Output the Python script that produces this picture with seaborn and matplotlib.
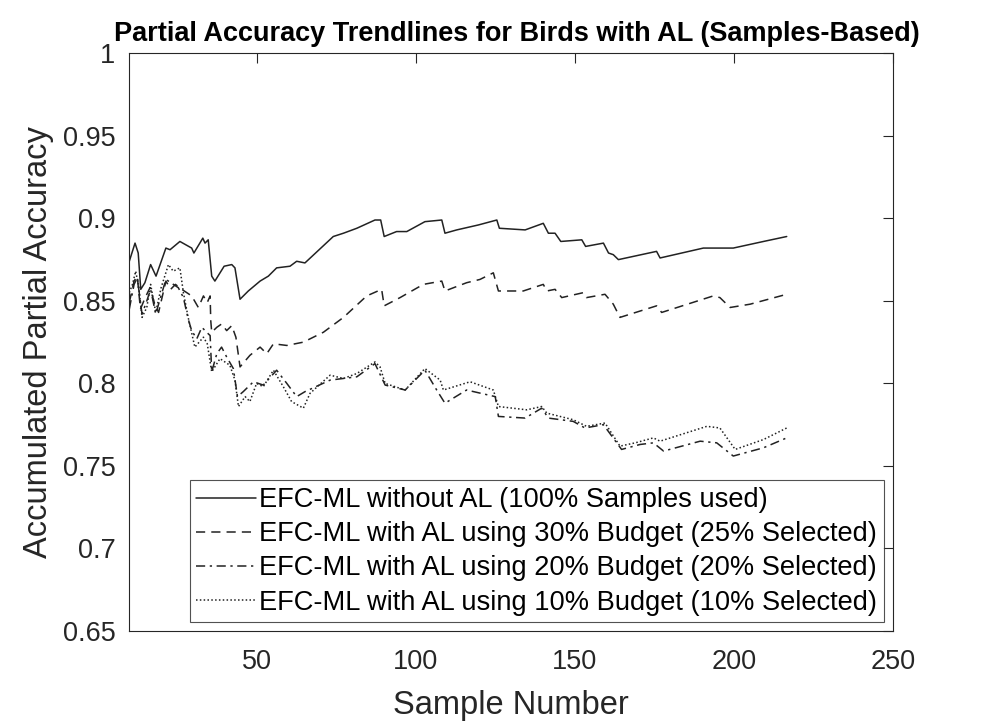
import numpy as np
import pandas as pd
import matplotlib
matplotlib.use('Agg')
import matplotlib.pyplot as plt
import seaborn as sns

sns.set_theme(style='white')
plt.rcParams['font.family'] = ['Liberation Sans', 'DejaVu Sans']

# series: (sample number, accumulated partial accuracy)
no_al_x = [10, 11.8, 12.8, 13.6, 14.9, 16.7, 18.4, 21.5, 22.8, 25.9, 29.6, 30.3, 33.1, 33.8, 34.8,
           35.9, 36.9, 39.8, 42.2, 43.2, 44.8, 47.4, 51.1, 53.7, 56.3, 60.5, 62.6, 65.2, 74.1,
           77.3, 81.5, 87.2, 89.0, 90.1, 94.0, 97.2, 102.9, 108.2, 109.2, 112.9, 119.7, 125.5,
           126.3, 134.4, 140.1, 141.7, 143.8, 145.6, 152.2, 153.4, 159.0, 160.6, 162.1, 163.7,
           175.7, 176.8, 190.4, 199.8, 209.3, 216.6]
no_al_y = [0.874, 0.885, 0.879, 0.857, 0.861, 0.872, 0.865, 0.882, 0.881, 0.886, 0.882, 0.879,
           0.888, 0.885, 0.887, 0.865, 0.862, 0.871, 0.872, 0.870, 0.851, 0.856, 0.862, 0.865,
           0.870, 0.871, 0.874, 0.873, 0.889, 0.891, 0.894, 0.899, 0.899, 0.889, 0.892, 0.892,
           0.898, 0.899, 0.891, 0.893, 0.896, 0.899, 0.894, 0.893, 0.897, 0.891, 0.891, 0.886,
           0.887, 0.883, 0.885, 0.879, 0.878, 0.875, 0.880, 0.876, 0.882, 0.882, 0.886, 0.889]

b30_x = [10, 11.5, 12.5, 13.5, 15, 16.5, 18, 19.2, 21.5, 23, 24.5, 26.5, 29.6, 31.7, 33.3, 34.5,
         35.4, 35.6, 35.9, 37.5, 39.0, 40.6, 42.2, 43.5, 44.8, 47.9, 51.1, 53.2, 55.3, 59.5,
         64.7, 71.0, 77.3, 84.6, 89.3, 90.1, 95.1, 102.4, 108.2, 109.2, 116.0, 120.2, 124.4,
         126.0, 133.8, 140.1, 141.2, 143.8, 145.9, 152.7, 153.7, 159.5, 162.1, 164.2, 175.7,
         177.3, 193.5, 195.6, 198.8, 205.1, 216.6]
b30_y = [0.849, 0.862, 0.865, 0.845, 0.852, 0.858, 0.848, 0.843, 0.862, 0.857, 0.860, 0.857,
         0.853, 0.846, 0.853, 0.849, 0.853, 0.838, 0.831, 0.834, 0.836, 0.832, 0.835, 0.828,
         0.810, 0.817, 0.822, 0.818, 0.824, 0.823, 0.825, 0.831, 0.840, 0.853, 0.857, 0.847,
         0.852, 0.860, 0.862, 0.856, 0.861, 0.863, 0.867, 0.856, 0.856, 0.860, 0.856, 0.857,
         0.852, 0.855, 0.852, 0.854, 0.848, 0.840, 0.847, 0.843, 0.853, 0.852, 0.846, 0.848,
         0.854]

b20_x = [10, 11.5, 12.5, 14, 15.5, 16.7, 18.3, 19.5, 21.5, 25.4, 27.0, 28.5, 29.6, 31.2, 32.8,
         34.3, 35.4, 35.9, 37.5, 39.0, 40.6, 42.7, 44.0, 45.8, 49.0, 52.1, 56.3, 59.5, 62.6,
         65.2, 73.1, 81.5, 87.2, 90.4, 96.7, 102.9, 106.6, 109.2, 116.0, 125.0, 126.0, 134.4,
         139.6, 141.7, 149.5, 153.2, 159.0, 164.7, 170.5, 174.7, 177.9, 189.4, 194.6, 199.8,
         209.3, 216.6]
b20_y = [0.845, 0.860, 0.864, 0.842, 0.850, 0.857, 0.842, 0.850, 0.863, 0.858, 0.852, 0.839,
         0.832, 0.827, 0.834, 0.831, 0.829, 0.807, 0.818, 0.822, 0.816, 0.809, 0.792, 0.795,
         0.801, 0.799, 0.808, 0.800, 0.792, 0.795, 0.802, 0.804, 0.812, 0.799, 0.796, 0.808,
         0.796, 0.788, 0.796, 0.792, 0.780, 0.779, 0.785, 0.779, 0.777, 0.773, 0.775, 0.760,
         0.763, 0.764, 0.759, 0.765, 0.764, 0.756, 0.761, 0.767]

b10_x = [10, 11, 12, 13, 14, 15.5, 16.7, 18.3, 20, 22.3, 23.8, 25.9, 27.0, 28.5, 30.6, 33.3,
         34.5, 35.9, 38.5, 41.6, 43.2, 44.3, 46.4, 47.9, 50.0, 52.1, 55.3, 58.4, 61.0, 64.7,
         66.8, 73.1, 77.3, 81.5, 87.2, 88.8, 90.4, 96.7, 102.9, 107.7, 108.7, 117.1, 124.4,
         126.0, 134.9, 139.6, 141.2, 149.5, 153.7, 159.5, 164.2, 169.0, 174.7, 176.8, 191.5,
         195.6, 200.4, 209.3, 216.6]
b10_y = [0.855, 0.860, 0.868, 0.858, 0.840, 0.846, 0.860, 0.843, 0.858, 0.872, 0.868, 0.870,
         0.855, 0.840, 0.822, 0.828, 0.824, 0.807, 0.815, 0.811, 0.802, 0.786, 0.792, 0.789,
         0.800, 0.798, 0.808, 0.798, 0.789, 0.785, 0.794, 0.805, 0.803, 0.806, 0.813, 0.810,
         0.800, 0.796, 0.809, 0.802, 0.796, 0.801, 0.796, 0.786, 0.784, 0.786, 0.782, 0.778,
         0.774, 0.776, 0.762, 0.764, 0.767, 0.765, 0.774, 0.773, 0.760, 0.766, 0.773]

labels = ['EFC-ML without AL (100% Samples used)',
          'EFC-ML with AL using 30% Budget (25% Selected)',
          'EFC-ML with AL using 20% Budget (20% Selected)',
          'EFC-ML with AL using 10% Budget (10% Selected)']

frames = []
for lab, xs, ys in zip(labels, [no_al_x, b30_x, b20_x, b10_x], [no_al_y, b30_y, b20_y, b10_y]):
    frames.append(pd.DataFrame({'Sample Number': xs, 'acc': ys, 'series': lab}))
df = pd.concat(frames, ignore_index=True)

dash_styles = {labels[0]: '', labels[1]: (6, 4), labels[2]: (6, 3, 1.5, 3), labels[3]: (1, 1.5)}

fig = plt.figure(figsize=(9.9, 7.22), dpi=100)
ax = fig.add_axes([129.3 / 990, 1 - 631 / 722, 763.7 / 990, 577.7 / 722])
sns.lineplot(data=df, x='Sample Number', y='acc', hue='series', style='series',
             palette=['#222222'] * 4, dashes=dash_styles, estimator=None, sort=False,
             linewidth=1.1, ax=ax)

ax.set_xlim(10, 250)
ax.set_ylim(0.65, 1)
ax.set_xticks([50, 100, 150, 200, 250])
ax.set_yticks([0.65, 0.7, 0.75, 0.8, 0.85, 0.9, 0.95, 1])
ax.set_yticklabels(['0.65', '0.7', '0.75', '0.8', '0.85', '0.9', '0.95', '1'])
ax.tick_params(direction='in', length=7, width=0.8, top=True, right=True,
               labelsize=19.5, colors='#262626', pad=13)
ax.tick_params(axis='y', pad=10)
for s in ax.spines.values():
    s.set_color('#262626')
    s.set_linewidth(0.8)
ax.set_xlabel('Sample Number', fontsize=23.5, color='#262626', labelpad=11)
ax.set_ylabel('Accumulated Partial Accuracy', fontsize=23.5, color='#262626', labelpad=6)
ax.set_title('Partial Accuracy Trendlines for Birds with AL (Samples-Based)',
             fontsize=19.5, fontweight='bold', color='black', pad=9, x=0.507)

leg = ax.legend(loc='lower right', bbox_to_anchor=(0.988, 0.015), fontsize=19.6,
                frameon=True, fancybox=False, handlelength=2.2, handletextpad=0.1,
                labelspacing=0.3, borderpad=0.25, borderaxespad=0)
leg.get_frame().set_edgecolor('#262626')
leg.get_frame().set_linewidth(0.8)
for t in leg.get_texts():
    t.set_color('black')

fig.savefig('out.png', dpi=100)
